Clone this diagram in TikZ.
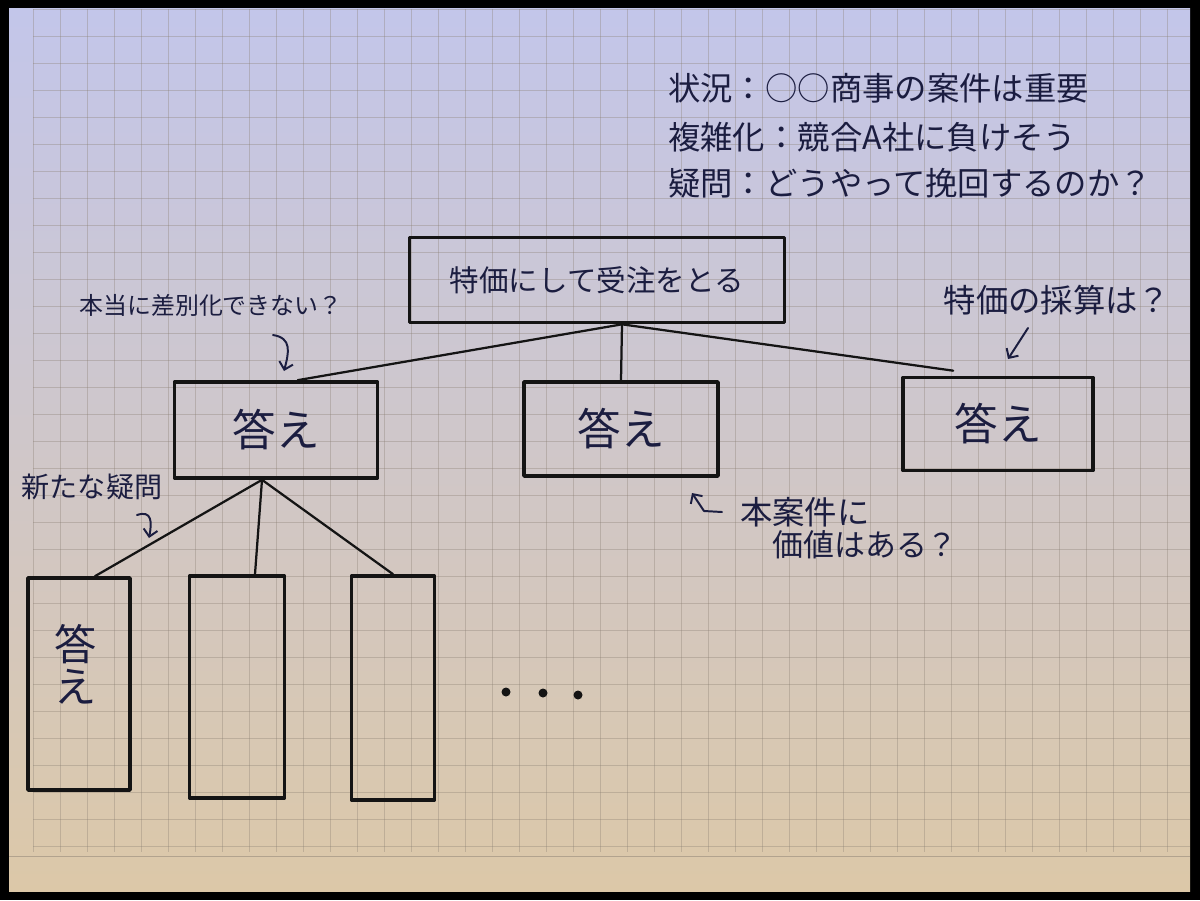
\documentclass[tikz,border=0pt]{standalone}
\usepackage{fontspec}
\setmainfont{Noto Sans CJK JP}
\usetikzlibrary{arrows.meta,calc}
\definecolor{ink}{HTML}{1B1D40}
\definecolor{pen}{HTML}{141414}
\definecolor{papertop}{HTML}{C3C6EA}
\definecolor{papermid}{HTML}{EFE6DC}
\definecolor{paperbot}{HTML}{DCC8A8}
\definecolor{gridc}{HTML}{8A7F72}
\newcommand\fs[1]{\fontsize{#1pt}{#1pt}\selectfont}
\begin{document}
\begin{tikzpicture}[x=0.025cm,y=-0.025cm,
  box/.style={draw=pen, line width=2.6pt, inner sep=0pt, line join=round},
  link/.style={draw=pen, line width=1.6pt, line cap=round},
  note/.style={text=ink, inner sep=0pt},
  hint/.style={draw=ink, line width=1.4pt, line cap=round, line join=round,
    -{Straight Barb[length=5pt,width=10pt]}},
  gridline/.style={draw=gridc, opacity=0.35, line width=0.5pt}]
\useasboundingbox (0,0) rectangle (1200,900);
\fill[black] (0,0) rectangle (1200,900);
\shade[top color=papertop, middle color=papermid, bottom color=paperbot] (9,9) rectangle (1190,891);
% grid
\foreach \x in {33,60,...,1190} \draw[gridline] (\x,9) -- (\x,852);
\foreach \y in {9,36,...,852} \draw[gridline] (33,\y) -- (1190,\y);
\draw[gridc, opacity=0.5, line width=0.6pt] (9,856) -- (1190,856);

% situation notes
\node[note, anchor=west, font=\fs{23}] (s1) at (668,88) {状況：○○商事の案件は重要};
\node[note, anchor=west, font=\fs{23}] (s2) at (668,137) {複雑化：競合A社に負けそう};
\node[note, anchor=west, font=\fs{23}] (s3) at (668,183) {疑問：どうやって挽回するのか？};

% boxes
\node[box, minimum width=375*0.025cm, minimum height=85*0.025cm, font=\fs{21}, text=ink] (top) at (597,280) {特価にして受注をとる};
\node[box, minimum width=203*0.025cm, minimum height=96*0.025cm, font=\fs{31}, text=ink] (L) at (276,430) {答え};
\node[box, minimum width=194*0.025cm, minimum height=94*0.025cm, font=\fs{31}, text=ink] (M) at (621,429) {答え};
\node[box, minimum width=190*0.025cm, minimum height=93*0.025cm, font=\fs{31}, text=ink] (R) at (998,424) {答え};
\node[box, minimum width=102*0.025cm, minimum height=212*0.025cm] (B1) at (79,684) {};
\node[box, minimum width=95*0.025cm, minimum height=222*0.025cm] (B2) at (237,687) {};
\node[box, minimum width=83*0.025cm, minimum height=224*0.025cm] (B3) at (393,688) {};
\node[note, align=center, font=\fs{30}] (B1t) at (76,664) {\fontsize{30pt}{50pt}\selectfont 答\\え};

% connectors
\coordinate (tp) at ($(top.south)+(25,0)$);
\coordinate (lb) at ($(L.south)+(-14,0)$);
\draw[link] (tp) -- ($(L.north west)+(125,0)$);
\draw[link] (tp) -- (M.north);
\draw[link] (tp) -- ($(R.north west)+(52,-5)$);
\draw[link] (lb) -- ($(B1.north)+(16,0)$);
\draw[link] (lb) -- ($(B2.north)+(18,0)$);
\draw[link] (lb) -- (B3.north);

% annotations
\node[note, font=\fs{17}] (q1) at (211,305) {本当に差別化できない？};
\node[note, font=\fs{23}] (q2) at (1057,300) {特価の採算は？};
\node[note, font=\fs{20}] (q3) at (92,487) {新たな疑問};
\node[note, anchor=west, font=\fs{23}] (q4a) at (740,512) {本案件に};
\node[note, anchor=west, font=\fs{22}] (q4b) at (772,545) {価値はある？};

\coordinate (a1s) at (273,335);
\coordinate (a1e) at (284,371);
\draw[hint] (a1s) .. controls (292,338) and (289,352) .. (a1e);
\coordinate (a2s) at (1028,328);
\coordinate (a2e) at (1008,359);
\draw[hint] (a2s) -- (a2e);
\coordinate (a3s) at (137,515);
\coordinate (a3e) at (149,538);
\draw[hint] (a3s) .. controls (152,510) and (152,522) .. (a3e);
\coordinate (a4s) at (722,512);
\coordinate (a4e) at (692,493);
\draw[hint] (a4s) -- (704,511) -- (a4e);

% ellipsis
\fill[pen] (506,692) circle (4.5);
\fill[pen] (543,693) circle (4.5);
\fill[pen] (578,695) circle (4.5);
\end{tikzpicture}
\end{document}
